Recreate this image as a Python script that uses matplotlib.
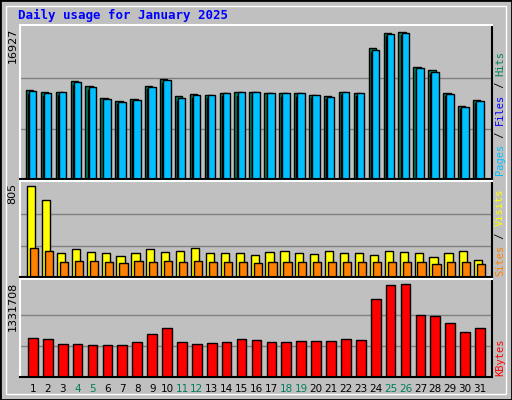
import matplotlib
matplotlib.use("Agg")
import matplotlib.pyplot as plt
import numpy as np

days = list(range(1, 32))
weekend = [4, 5, 11, 12, 18, 19, 25, 26]

hits = [9977, 9753, 9753, 10986, 10426, 9080, 8744, 8968, 10426, 11210,
        9304, 9529, 9417, 9641, 9753, 9753, 9641, 9641, 9641, 9417,
        9304, 9753, 9641, 14685, 16366, 16478, 12555, 12218, 9641, 8183, 8856]
files = [9529, 9304, 9417, 10538, 9977, 8632, 8408, 8744, 10089, 10762,
         8744, 9080, 9080, 9304, 9304, 9417, 9192, 9192, 9192, 9080,
         8968, 9417, 9304, 14236, 16029, 16142, 12218, 11770, 9304, 7847, 8520]
pages = [9865, 9641, 9753, 10874, 10314, 8968, 8632, 8856, 10314, 11098,
         9080, 9417, 9417, 9641, 9753, 9753, 9641, 9641, 9641, 9417,
         9192, 9753, 9641, 14460, 16254, 16366, 12442, 11994, 9529, 8071, 8744]
visits = [780, 660, 205, 240, 210, 205, 180, 205, 240, 210,
          225, 245, 205, 205, 205, 190, 210, 225, 205, 200,
          220, 205, 205, 190, 220, 210, 205, 170, 205, 220, 145]
sites = [250, 220, 130, 140, 140, 130, 120, 140, 130, 140,
         130, 140, 130, 130, 130, 120, 130, 130, 130, 130,
         130, 130, 130, 130, 130, 130, 130, 115, 130, 130, 110]
kbytes = [564000, 550000, 477000, 477000, 463000, 463000, 463000, 506000, 622000, 695000,
          506000, 477000, 492000, 506000, 550000, 535000, 506000, 506000, 521000, 521000,
          521000, 550000, 535000, 1114000, 1317000, 1331708, 883000, 868000, 767000, 651000, 695000]

hits_max, visits_max, kb_max = 16927, 805, 1331708
silver = "#C0C0C0"
W, H = 512, 400

fig = plt.figure(figsize=(5.12, 4.0), dpi=100, facecolor=silver)
fig.patches.append(plt.Rectangle((0, 0), 1, 1, transform=fig.transFigure,
                                 fill=False, edgecolor="black", lw=2))
fig.patches.append(plt.Rectangle((6/W, 6/H), 1-12/W, 1-12/H, transform=fig.transFigure,
                                 fill=False, edgecolor="white", lw=1))
fig.text(18/W, 1-15/H, "Daily usage for January 2025", color="#0000FF",
         family="DejaVu Sans Mono", weight="bold", fontsize=9, va="center")

def panel(y0, y1):
    ax = fig.add_axes((20/W, 1-y1/H, 472/W, (y1-y0)/H))
    ax.set_facecolor(silver)
    ax.set_xlim(0.13, 31.8)
    ax.set_xticks([])
    ax.set_yticks([])
    for s in ax.spines.values():
        s.set_linewidth(1.5)
    ax.spines["top"].set_color("white")
    ax.spines["left"].set_color("white")
    return ax

x = np.array(days)

ax1 = panel(25, 179)
ax1.set_ylim(0, hits_max * 154 / 151)
for g in (1, 2):
    ax1.axhline(hits_max * g / 3, color="#808080", lw=1, zorder=0)
ax1.bar(x - 0.48, hits, width=0.5, align="edge", color="#00805C", edgecolor="black", lw=1)
ax1.bar(x - 0.33, files, width=0.45, align="edge", color="#0000FF", edgecolor="black", lw=1)
ax1.bar(x - 0.27, pages, width=0.5, align="edge", color="#00C0FF", edgecolor="black", lw=1)
ax1.text(-0.005, 1 - 3/154, str(hits_max), transform=ax1.transAxes, rotation=90,
         ha="right", va="top", fontsize=8)

ax2 = panel(181, 277)
ax2.set_ylim(0, visits_max * 96 / 94)
for g in (1, 2):
    ax2.axhline(visits_max * g / 3, color="#808080", lw=1, zorder=0)
ax2.bar(x - 0.4, visits, width=0.55, align="edge", color="#FFFF00", edgecolor="black", lw=1)
ax2.bar(x - 0.2, sites, width=0.55, align="edge", color="#FF8000", edgecolor="black", lw=1)
ax2.text(-0.005, 1 - 2/96, str(visits_max), transform=ax2.transAxes, rotation=90,
         ha="right", va="top", fontsize=8)

ax3 = panel(279, 377)
ax3.set_ylim(0, kb_max * 98 / 93)
for g in (1, 2):
    ax3.axhline(kb_max * g / 3, color="#808080", lw=1, zorder=0)
ax3.bar(x - 0.33, kbytes, width=0.65, align="edge", color="#FF0000", edgecolor="black", lw=1)
ax3.text(-0.005, 1 - 3/98, str(kb_max), transform=ax3.transAxes, rotation=90,
         ha="right", va="top", fontsize=8)
for d in days:
    ax3.text(d, -0.12, str(d), transform=ax3.get_xaxis_transform(), ha="center", va="center",
             fontsize=7.5, color="#00805C" if d in weekend else "black")

def side(y, parts):
    yy = y
    for txt, col in parts:
        fig.text(500/W, yy/H, txt, color=col, rotation=90, ha="center", va="bottom",
                 family="DejaVu Sans Mono", fontsize=7.5)
        yy += len(txt) * 6.2

side(400 - 175, [("Pages", "#00C0FF"), (" / ", "black"), ("Files", "#0000FF"),
                 (" / ", "black"), ("Hits", "#00805C")])
side(400 - 276, [("Sites", "#FF8000"), (" / ", "black"), ("Visits", "#FFFF00")])
side(400 - 376, [("KBytes", "#FF0000")])

fig.savefig("out.png", dpi=100, facecolor=silver)
